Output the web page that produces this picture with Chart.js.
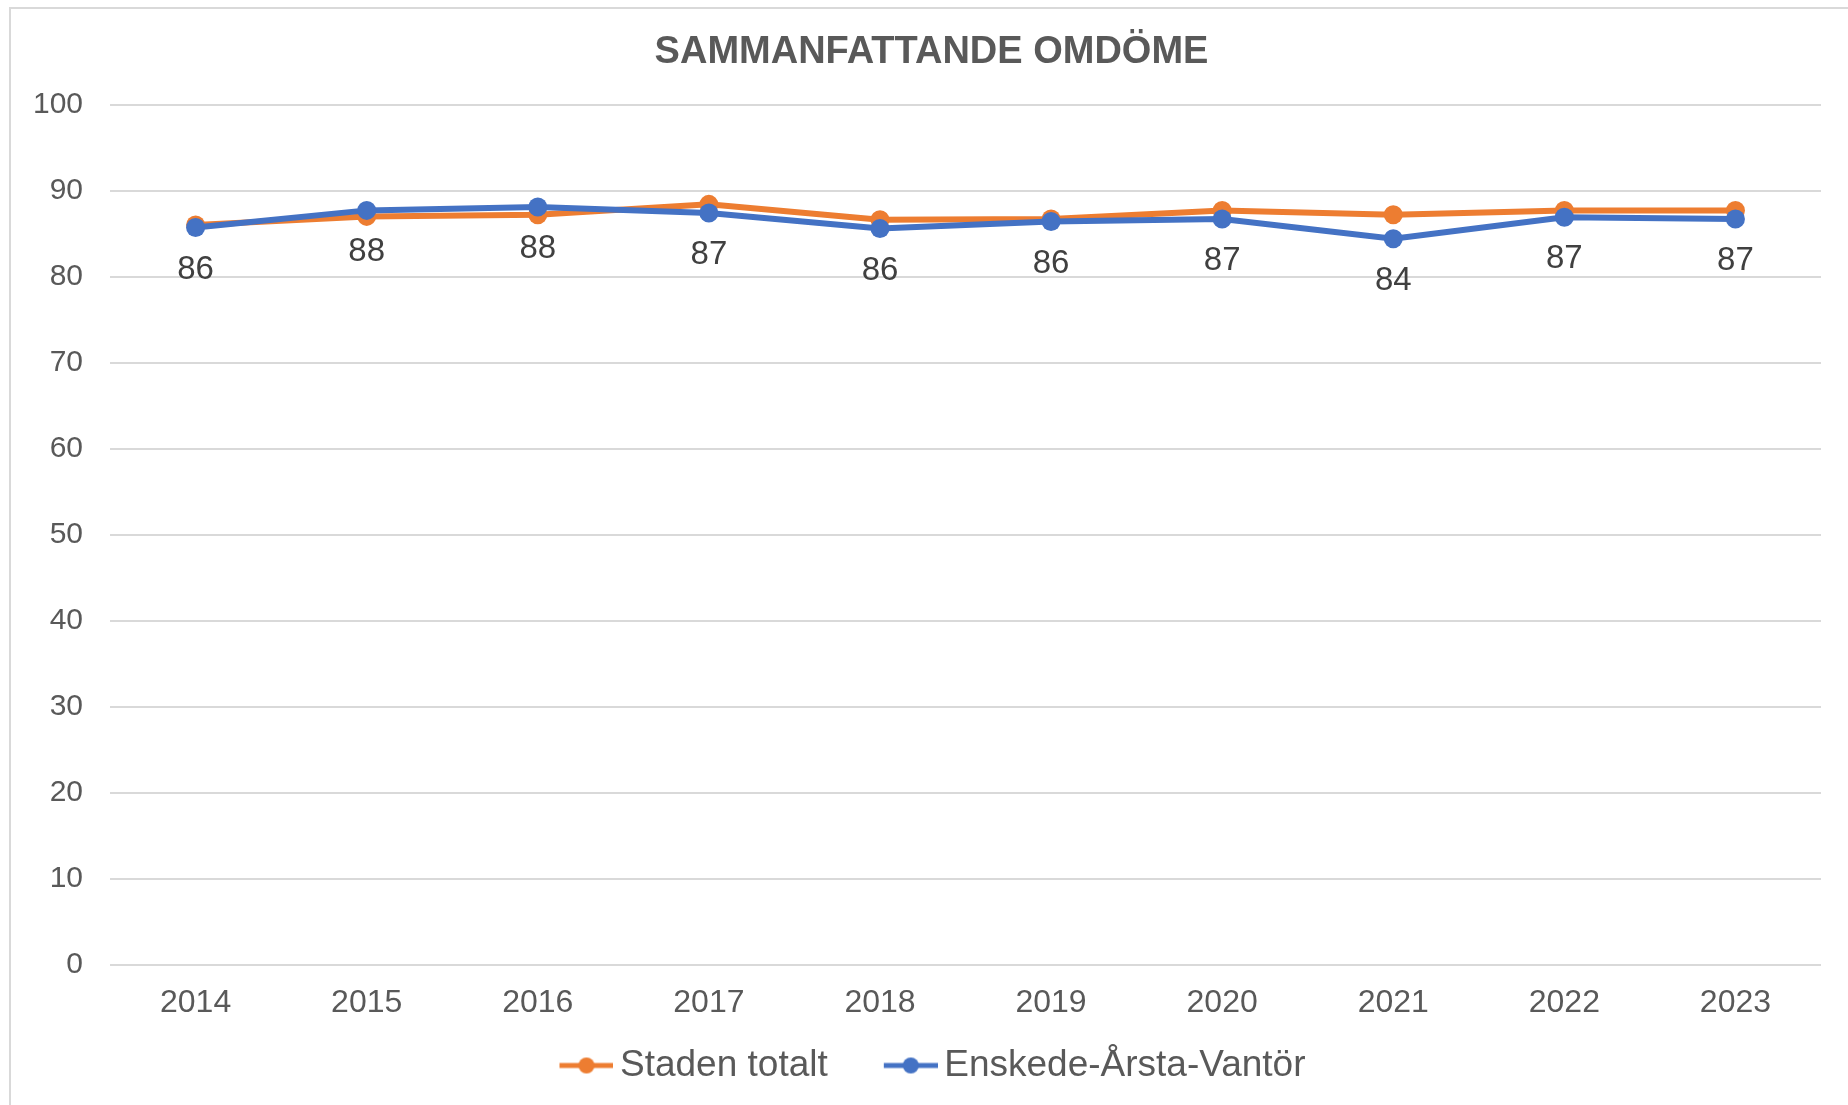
<!DOCTYPE html>
<html>
<head>
<meta charset="utf-8">
<script src="https://cdn.jsdelivr.net/npm/chart.js@4/dist/chart.umd.min.js"></script>
<style>
  html, body { margin: 0; padding: 0; background: #fff; overflow: hidden; }
  #frame {
    position: absolute; left: 9px; top: 7px; width: 1900px; height: 1200px;
    border: 2px solid #d9d9d9; box-sizing: border-box;
  }
  #wrap { position: absolute; left: 0; top: 0; width: 1848px; height: 1105px; }
</style>
</head>
<body>
<div id="frame"></div>
<div id="wrap"><canvas id="chart" width="1848" height="1105"></canvas></div>
<script>
// data
const years = ['2014', '2015', '2016', '2017', '2018', '2019', '2020', '2021', '2022', '2023'];
const stadenTotalt = [86.0, 87.0, 87.2, 88.4, 86.6, 86.7, 87.7, 87.2, 87.7, 87.7];
const enskedeArsta = [85.7, 87.7, 88.1, 87.4, 85.6, 86.4, 86.7, 84.4, 86.9, 86.7];
const enskedeLabels = ['86', '88', '88', '87', '86', '86', '87', '84', '87', '87'];
const yTicks = [0, 10, 20, 30, 40, 50, 60, 70, 80, 90, 100];

const ORANGE = '#ED7D31';
const BLUE = '#4472C4';
const FONT = "'Liberation Sans', Arial, sans-serif";

// legend marker: short line with a dot, drawn on the right side of a wider canvas
// so the built-in legend leaves the right gaps around it
const makeMarker = (color) => {
  const c = document.createElement('canvas');
  c.width = 116;
  c.height = 20;
  const ctx = c.getContext('2d');
  ctx.strokeStyle = color;
  ctx.lineWidth = 5;
  ctx.beginPath();
  ctx.moveTo(62, 10);
  ctx.lineTo(116, 10);
  ctx.stroke();
  ctx.fillStyle = color;
  ctx.beginPath();
  ctx.arc(89, 10, 8, 0, Math.PI * 2);
  ctx.fill();
  return c;
};
const markers = [makeMarker(ORANGE), makeMarker(BLUE)];

// labels under the blue series, placed from the library's own point positions
const pointLabels = {
  id: 'pointLabels',
  afterDatasetsDraw(chart) {
    const meta = chart.getDatasetMeta(1);
    const ctx = chart.ctx;
    ctx.save();
    ctx.font = '33px ' + FONT;
    ctx.fillStyle = '#404040';
    ctx.textAlign = 'center';
    ctx.textBaseline = 'middle';
    meta.data.forEach((pt, i) => {
      ctx.fillText(enskedeLabels[i], pt.x, pt.y + 42);
    });
    ctx.restore();
  }
};

// the original title sits a bit right of centre, the legend a bit left
const nudgeBoxes = {
  id: 'nudgeBoxes',
  afterLayout(chart) {
    if (chart.titleBlock) {
      chart.titleBlock.left += 18;
      chart.titleBlock.right += 18;
    }
    if (chart.legend) {
      chart.legend.left -= 6;
      chart.legend.right -= 6;
    }
  }
};

new Chart(document.getElementById('chart').getContext('2d'), {
  type: 'line',
  data: {
    labels: years,
    datasets: [
      {
        label: 'Staden totalt',
        data: stadenTotalt,
        borderColor: ORANGE,
        backgroundColor: ORANGE,
        borderWidth: 6,
        pointRadius: 9.5,
        pointHoverRadius: 9.5,
        pointBorderWidth: 0,
        tension: 0,
        order: 1
      },
      {
        label: 'Enskede-Årsta-Vantör',
        data: enskedeArsta,
        borderColor: BLUE,
        backgroundColor: BLUE,
        borderWidth: 6,
        pointRadius: 9.5,
        pointHoverRadius: 9.5,
        pointBorderWidth: 0,
        tension: 0,
        order: 0
      }
    ]
  },
  options: {
    responsive: false,
    animation: false,
    layout: { padding: { left: 6, right: 27, top: 0, bottom: 11 } },
    plugins: {
      title: {
        display: true,
        text: 'SAMMANFATTANDE OMDÖME',
        color: '#595959',
        font: { family: FONT, size: 38, weight: 'bold' },
        padding: { top: 30, bottom: 29 }
      },
      legend: {
        display: true,
        position: 'bottom',
        labels: {
          usePointStyle: true,
          pointStyleWidth: 92,
          padding: 6,
          color: '#595959',
          font: { family: FONT, size: 37 },
          generateLabels: (chart) => chart.data.datasets.map((ds, i) => ({
            text: ds.label,
            fillStyle: ds.borderColor,
            strokeStyle: ds.borderColor,
            fontColor: '#595959',
            pointStyle: markers[i],
            lineWidth: 0,
            hidden: false,
            datasetIndex: i
          }))
        }
      },
      tooltip: { enabled: false }
    },
    scales: {
      x: {
        offset: true,
        grid: { display: false, drawTicks: false },
        border: { display: false },
        ticks: {
          color: '#595959',
          font: { family: FONT, size: 32 },
          padding: 19,
          maxRotation: 0
        }
      },
      y: {
        min: 0,
        max: 100,
        afterBuildTicks: (axis) => { axis.ticks = yTicks.map(v => ({ value: v })); },
        grid: { color: '#d9d9d9', lineWidth: 2, drawTicks: false },
        border: { display: false },
        ticks: {
          color: '#595959',
          font: { family: FONT, size: 30 },
          padding: 27
        }
      }
    }
  },
  plugins: [pointLabels, nudgeBoxes]
});
</script>
</body>
</html>
